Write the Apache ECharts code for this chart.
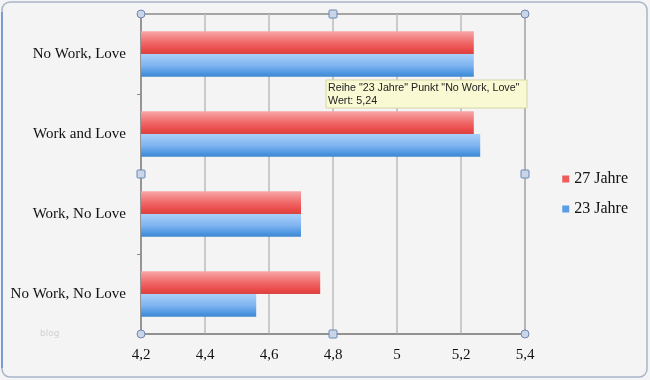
<!DOCTYPE html>
<html><head><meta charset="utf-8">
<script src="https://cdn.jsdelivr.net/npm/echarts@6/dist/echarts.min.js"></script>
<style>html,body{margin:0;padding:0;background:#fff}#c{width:650px;height:380px}</style>
</head><body><div id="c"></div>
<script>
var categories = ['No Work, No Love', 'Work, No Love', 'Work and Love', 'No Work, Love'];
var series27 = [4.76, 4.70, 5.24, 5.24];
var series23 = [4.56, 4.70, 5.26, 5.24];
var seriesNames = ['27 Jahre', '23 Jahre'];
var xTicks = {min: 4.2, max: 5.4, interval: 0.2};

var chart = echarts.init(document.getElementById('c'));
var G = {left: 141, right: 125, top: 14, bottom: 46};
var x0 = G.left, x1 = 650 - G.right, y0 = G.top, y1 = 380 - G.bottom, xm = (x0 + x1) / 2, ym = (y0 + y1) / 2;
function circ(x, y) { return {type: 'circle', shape: {cx: x, cy: y, r: 4}, style: {fill: '#c9d6ea', stroke: '#6f86b0', lineWidth: 1}, z: 100}; }
function sq(x, y) { return {type: 'rect', shape: {x: x - 4, y: y - 4, width: 8, height: 8, r: 1}, style: {fill: '#c9d6ea', stroke: '#6f86b0', lineWidth: 1}, z: 100}; }
var redGrad = new echarts.graphic.LinearGradient(0, 0, 0, 1, [
  {offset: 0, color: '#f7a8a8'}, {offset: 0.5, color: '#f06868'}, {offset: 0.85, color: '#e94646'}, {offset: 1, color: '#d84444'}]);
var blueGrad = new echarts.graphic.LinearGradient(0, 0, 0, 1, [
  {offset: 0, color: '#a9d0fa'}, {offset: 0.5, color: '#7fb4f0'}, {offset: 0.85, color: '#4b95e0'}, {offset: 1, color: '#3f86d0'}]);
chart.setOption({
  animation: false,
  backgroundColor: '#f4f4f4',
  textStyle: {fontFamily: 'Liberation Serif'},
  grid: {left: G.left, right: G.right, top: G.top, bottom: G.bottom, show: true, borderColor: '#8a8a8a', borderWidth: 1.5, backgroundColor: 'transparent'},
  legend: {
    orient: 'vertical', right: 17, top: 166, itemWidth: 7, itemHeight: 7, itemGap: 14,
    icon: 'rect', textStyle: {fontFamily: 'Liberation Serif', fontSize: 16, color: '#111'},
    data: [{name: seriesNames[0], itemStyle: {color: '#ee5c5c'}}, {name: seriesNames[1], itemStyle: {color: '#5a9de6'}}]
  },
  xAxis: {
    type: 'value', min: xTicks.min, max: xTicks.max, interval: xTicks.interval,
    axisLine: {show: true, lineStyle: {color: '#8a8a8a', width: 1.5}},
    axisTick: {show: false},
    splitLine: {show: true, lineStyle: {color: '#bdbdbd', width: 1.5}},
    axisLabel: {margin: 14, fontSize: 15, color: '#111', fontFamily: 'Liberation Serif',
      formatter: function (v) { return String(Math.round(v * 10) / 10).replace('.', ','); }}
  },
  yAxis: {
    type: 'category', data: categories,
    axisLine: {show: true, lineStyle: {color: '#8a8a8a', width: 1.5}},
    axisTick: {show: true, length: 4, lineStyle: {color: '#8a8a8a'}},
    axisLabel: {margin: 15, fontSize: 15, color: '#111', fontFamily: 'Liberation Serif'}
  },
  series: [
    {name: seriesNames[0], type: 'bar', data: series27, barGap: '0%', barCategoryGap: '43%', itemStyle: {color: redGrad}},
    {name: seriesNames[1], type: 'bar', data: series23, barGap: '0%', barCategoryGap: '43%', itemStyle: {color: blueGrad}}
  ],
  graphic: [
    {type: 'rect', shape: {x: 2, y: 2, width: 645, height: 375, r: 8}, style: {fill: 'none', stroke: '#a8b4c8', lineWidth: 1.5}, z: 90},
    {type: 'line', shape: {x1: 2, y1: 12, x2: 2, y2: 368}, style: {stroke: '#7a9cd0', lineWidth: 2}, z: 91},
    {type: 'text', left: 40, top: 329, style: {text: 'blog', fill: '#d0d0d0', font: '9px "DejaVu Sans"'}, z: 50},
    circ(x0, y0), sq(xm, y0), circ(x1, y0), sq(x0, ym), sq(x1, ym), circ(x0, y1), sq(xm, y1), circ(x1, y1),
    {type: 'rect', z: 120, shape: {x: 326, y: 80, width: 201, height: 28}, style: {fill: '#f9f9d3', stroke: '#d6d6a8', lineWidth: 1}},
    {type: 'text', z: 121, x: 328, y: 82, style: {text: 'Reihe "23 Jahre" Punkt "No Work, Love"\nWert: 5,24', fill: '#222', font: '10.7px "Liberation Sans"', lineHeight: 12.5}}
  ]
});
</script></body></html>
